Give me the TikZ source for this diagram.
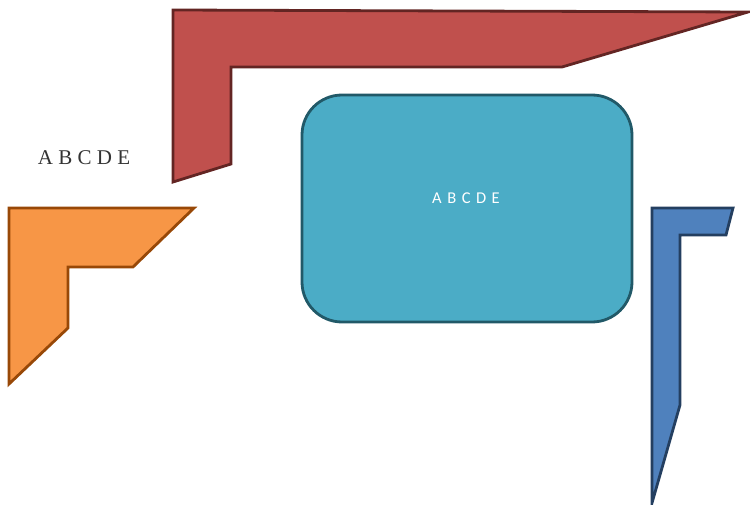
\documentclass[tikz,border=0pt]{standalone}
\usepackage{fontspec}
\setmainfont{Liberation Serif}
\newfontfamily\boxfont{Carlito}
\definecolor{redfill}{HTML}{C0504D}
\definecolor{redline}{HTML}{632523}
\definecolor{orangefill}{HTML}{F79646}
\definecolor{orangeline}{HTML}{984807}
\definecolor{bluefill}{HTML}{4F81BD}
\definecolor{blueline}{HTML}{243F60}
\definecolor{tealfill}{HTML}{4BACC6}
\definecolor{tealline}{HTML}{215968}
\tikzset{
  piece/.style={line width=2.8pt,line join=miter},
  panel/.style={draw=tealline,fill=tealfill,line width=2.8pt,rounded corners=40pt,
    minimum width=330pt,minimum height=227pt,inner sep=0pt}
}
\tikzstyle{every node}=[font=\fontsize{21}{25}\selectfont]
\begin{document}
\begin{tikzpicture}[x=1pt,y=-1pt]
    \useasboundingbox (0,0) rectangle (750,505);
    % the three bent bars
    \draw [piece,draw=redline,fill=redfill] (173,10) -- (748,12) -- (562,67) -- (231,67)
      -- (231,164) -- (173,182) -- cycle;
    \draw [piece,draw=orangeline,fill=orangefill] (9,208) -- (194,208) -- (133,267) -- (68,267)
      -- (68,328) -- (9,384) -- cycle;
    \draw [piece,draw=blueline,fill=bluefill] (652,208) -- (733,208) -- (726,235) -- (680,235)
      -- (680,405) -- (652,503) -- cycle;
    % box and labels
    \node[panel] (box) at (467,208.5) {};
    \node[text=white,font=\boxfont\fontsize{16.5}{20}\selectfont] (boxlabel) at (466,198) {A\,\,B\,\,C\,\,D\,\,E};
    \node[text=black!80] (sidelabel) at (84,158) {A B C D E};
\end{tikzpicture}
\end{document}
